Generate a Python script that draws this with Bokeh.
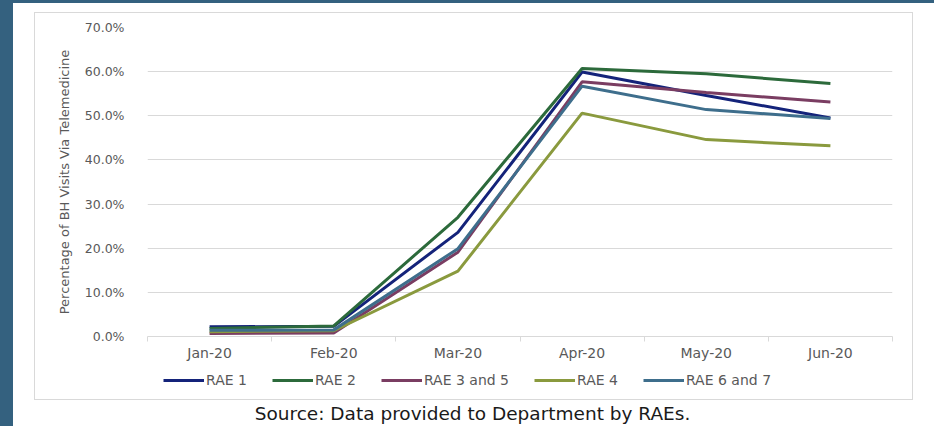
from bokeh.plotting import figure
from bokeh.layouts import column
from bokeh.models import (Label, Legend, LegendItem, FixedTicker,
                          NumeralTickFormatter, Range1d)
from bokeh.embed import file_html
from bokeh.resources import INLINE

# Monthly share of behavioral-health visits delivered via telemedicine
months = ["Jan-20", "Feb-20", "Mar-20", "Apr-20", "May-20", "Jun-20"]
rae_1 = [2.2, 2.3, 23.6, 59.9, 54.6, 49.5]
rae_2 = [1.8, 2.4, 27.0, 60.7, 59.5, 57.3]
rae_3_5 = [0.7, 0.8, 19.1, 57.7, 55.3, 53.1]
rae_4 = [1.1, 1.3, 14.8, 50.6, 44.6, 43.2]
rae_6_7 = [1.4, 1.5, 19.9, 56.7, 51.4, 49.4]

series_names = ["RAE 1", "RAE 2", "RAE 3 and 5", "RAE 4", "RAE 6 and 7"]
series_values = [rae_1, rae_2, rae_3_5, rae_4, rae_6_7]
series_colors = ["#14237a", "#2c6a3b", "#7a3d62", "#8a9a3e", "#3e6e8c"]

source_note = "Source: Data provided to Department by RAEs."

DARK = "#34617f"
GRID = "#d9d9d9"
TEXT = "#595959"
LINE_W = 3

xs = [i + 0.5 for i in range(len(months))]
x_range = Range1d(0, len(months))
y_range = Range1d(0, 0.70)


def bare(width, height, xr, yr):
    """A figure whose frame fills the whole canvas, with no axes or grid."""
    f = figure(width=width, height=height, toolbar_location=None,
               output_backend="svg", min_border=0, x_range=xr, y_range=yr,
               background_fill_color="white", border_fill_color="white")
    f.axis.visible = False
    f.grid.visible = False
    f.outline_line_color = None
    return f


# main chart
p = figure(width=877, height=358, output_backend="svg", toolbar_location=None,
           x_range=x_range, y_range=y_range,
           min_border_left=112, min_border_right=20,
           min_border_top=14, min_border_bottom=35,
           background_fill_color="white", border_fill_color="white")
p.outline_line_color = None

for name, vals, col in zip(series_names, series_values, series_colors):
    p.line(xs, [v / 100 for v in vals], line_color=col, line_width=LINE_W)

# x axis: labels at category centres, small ticks on category boundaries
p.xaxis.ticker = FixedTicker(ticks=xs, minor_ticks=list(range(len(months) + 1)))
p.xaxis.major_label_overrides = {x: m for x, m in zip(xs, months)}
p.xaxis.major_tick_out = 0
p.xaxis.major_tick_in = 0
p.xaxis.minor_tick_out = 5
p.xaxis.minor_tick_in = 0
p.xaxis.minor_tick_line_color = GRID
p.xaxis.axis_line_color = GRID
p.xaxis.major_label_standoff = 3
p.xaxis.major_label_text_font = "DejaVu Sans"
p.xaxis.major_label_text_font_size = "14px"
p.xaxis.major_label_text_color = TEXT
p.xgrid.grid_line_color = None

p.yaxis.ticker = FixedTicker(ticks=[i / 10 for i in range(8)])
p.yaxis.formatter = NumeralTickFormatter(format="0.0%")
p.yaxis.axis_line_color = None
p.yaxis.major_tick_line_color = None
p.yaxis.minor_tick_line_color = None
p.yaxis.major_label_standoff = 17
p.yaxis.major_label_text_font = "DejaVu Sans"
p.yaxis.major_label_text_font_size = "12.5px"
p.yaxis.major_label_text_color = TEXT
p.yaxis.axis_label = "Percentage of BH Visits Via Telemedicine"
p.yaxis.axis_label_standoff = 10
p.yaxis.axis_label_text_font = "DejaVu Sans"
p.yaxis.axis_label_text_font_style = "normal"
p.yaxis.axis_label_text_font_size = "13px"
p.yaxis.axis_label_text_color = TEXT
p.ygrid.grid_line_color = GRID

# horizontal key row under the chart (its frame lines up with the chart's)
key = bare(877, 28, x_range, y_range)
items = []
for name, vals, col in zip(series_names, series_values, series_colors):
    r = key.line(xs, [v / 100 for v in vals], line_color=col,
                 line_width=LINE_W, visible=False)
    items.append(LegendItem(label=name, renderers=[r]))
key.add_layout(Legend(items=items, orientation="horizontal", location=(16, 11),
                      glyph_width=41, glyph_height=14, label_height=16,
                      label_standoff=2, spacing=25, padding=0, margin=0,
                      border_line_color=None, background_fill_alpha=0,
                      label_text_font="DejaVu Sans",
                      label_text_font_size="14px", label_text_color=TEXT))

# chart and key share one thin light frame
framed = column(p, key, margin=(13, 0, 0, 35),
                styles={"outline": "1px solid " + GRID})

# source line under the frame
src = figure(width=934, height=27, toolbar_location=None, output_backend="svg",
             min_border=0, x_range=Range1d(0, 934), y_range=Range1d(0, 27),
             background_fill_alpha=0, border_fill_alpha=0)
src.axis.visible = False
src.grid.visible = False
src.outline_line_color = None
src.add_layout(Label(x=472, y=13, text=source_note,
                     text_align="center", text_baseline="middle",
                     text_font="DejaVu Sans", text_font_size="18.5px",
                     text_color="#1a1a1a"))

# page: white sheet with a dark band along its left and top edges
page = column(framed, src, styles={"background-color": "white",
                                   "box-shadow": "inset 13px 3px 0 0 " + DARK})

open("out.html", "w").write(file_html(page, INLINE))
